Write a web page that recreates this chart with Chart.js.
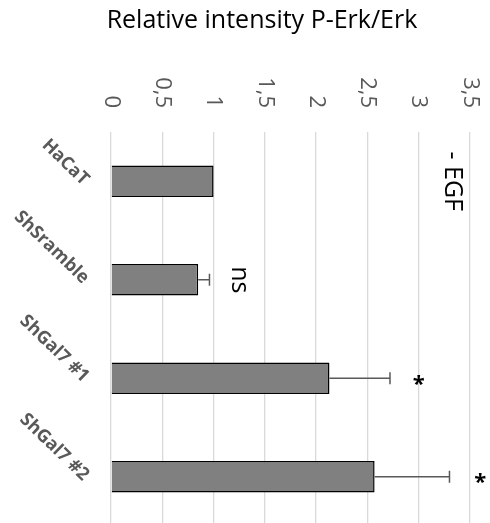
<!DOCTYPE html>
<html>
<head>
<meta charset="utf-8">
<script src="https://cdn.jsdelivr.net/npm/chart.js@4"></script>
<style>
  html, body { margin: 0; padding: 0; background: #fff; overflow: hidden; }
  #wrap { width: 490px; height: 526px; }
</style>
</head>
<body>
<div id="wrap"><canvas id="chart" width="490" height="526"></canvas></div>
<script>
// data
const categories = ['HaCaT', 'ShSramble', 'ShGal7 #1', 'ShGal7 #2'];
const values = [1.0, 0.85, 2.13, 2.57];
const errors = [0, 0.11, 0.59, 0.73];
const tickValues = [0, 0.5, 1, 1.5, 2, 2.5, 3, 3.5];
const tickLabels = ['0', '0,5', '1', '1,5', '2', '2,5', '3', '3,5'];
const marks = ['- EGF', 'ns', '*', '*'];
const markAt = [3.33, 1.25, 3.0, 3.6];

const titleText = 'Relative intensity P-Erk/Erk';
const FONT = '"Open Sans", "Noto Sans", sans-serif';

// error bars, rotated tick/category labels and annotations
const extras = {
    id: 'extras',
    afterDatasetsDraw(chart) {
        const ctx = chart.ctx;
        const xs = chart.scales.x;
        const ys = chart.scales.y;
        ctx.save();
        ctx.strokeStyle = '#595959';
        ctx.lineWidth = 1.5;
        values.forEach((v, i) => {
            if (!errors[i]) return;
            const y = ys.getPixelForValue(i);
            const x0 = xs.getPixelForValue(v);
            const x1 = xs.getPixelForValue(v + errors[i]);
            ctx.beginPath();
            ctx.moveTo(x0, y);
            ctx.lineTo(x1, y);
            ctx.moveTo(x1, y - 6);
            ctx.lineTo(x1, y + 6);
            ctx.stroke();
        });
        ctx.restore();
    },
    afterDraw(chart) {
        const ctx = chart.ctx;
        const xs = chart.scales.x;
        const ys = chart.scales.y;
        const area = chart.chartArea;

        ctx.save();
        // title
        ctx.fillStyle = '#000';
        ctx.font = '25px ' + FONT;
        ctx.textAlign = 'center';
        ctx.textBaseline = 'middle';
        ctx.fillText(titleText, 262, 21);

        // value axis labels, turned clockwise
        ctx.fillStyle = '#595959';
        ctx.font = '22px ' + FONT;
        tickValues.forEach((t, i) => {
            ctx.save();
            ctx.translate(xs.getPixelForValue(t), area.top - 24);
            ctx.rotate(Math.PI / 2);
            ctx.textAlign = 'right';
            ctx.textBaseline = 'middle';
            ctx.fillText(tickLabels[i], 0, 0);
            ctx.restore();
        });

        // category labels, slanted
        ctx.font = 'bold 18px ' + FONT;
        categories.forEach((c, i) => {
            ctx.save();
            ctx.translate(area.left - 25, ys.getPixelForValue(i) + 1);
            ctx.rotate(44 * Math.PI / 180);
            ctx.textAlign = 'right';
            ctx.textBaseline = 'middle';
            ctx.fillText(c, 0, 0);
            ctx.restore();
        });

        // annotations
        ctx.fillStyle = '#000';
        marks.forEach((m, i) => {
            ctx.save();
            ctx.translate(xs.getPixelForValue(markAt[i]), ys.getPixelForValue(i));
            if (m === '*') {
                ctx.font = 'bold 22px ' + FONT;
                ctx.textAlign = 'center';
                ctx.textBaseline = 'middle';
                ctx.fillText(m, 0, 6);
            } else {
                ctx.rotate(Math.PI / 2);
                ctx.font = '25px ' + FONT;
                ctx.textAlign = 'center';
                ctx.textBaseline = 'middle';
                ctx.fillText(m, 0, 0);
            }
            ctx.restore();
        });
        ctx.restore();
    }
};

new Chart(document.getElementById('chart'), {
    type: 'bar',
    data: {
        labels: categories,
        datasets: [{
            data: values,
            backgroundColor: '#808080',
            borderColor: '#000',
            borderWidth: 1.5,
            barPercentage: 0.32,
            categoryPercentage: 1.0
        }]
    },
    options: {
        indexAxis: 'y',
        responsive: false,
        animation: false,
        devicePixelRatio: 1,
        layout: { padding: { left: 111, top: 132, right: 20, bottom: 0 } },
        plugins: {
            legend: { display: false },
            title: { display: false },
            tooltip: { enabled: false }
        },
        scales: {
            x: {
                position: 'top',
                min: 0,
                max: 3.5,
                ticks: { display: false, stepSize: 0.5 },
                grid: { color: '#d9d9d9', lineWidth: 1.3, drawTicks: false },
                border: { display: false },
                afterFit(s) { s.height = 0; }
            },
            y: {
                ticks: { display: false },
                grid: { display: false },
                border: { display: false },
                afterFit(s) { s.width = 0; }
            }
        }
    },
    plugins: [extras]
});
</script>
</body>
</html>
